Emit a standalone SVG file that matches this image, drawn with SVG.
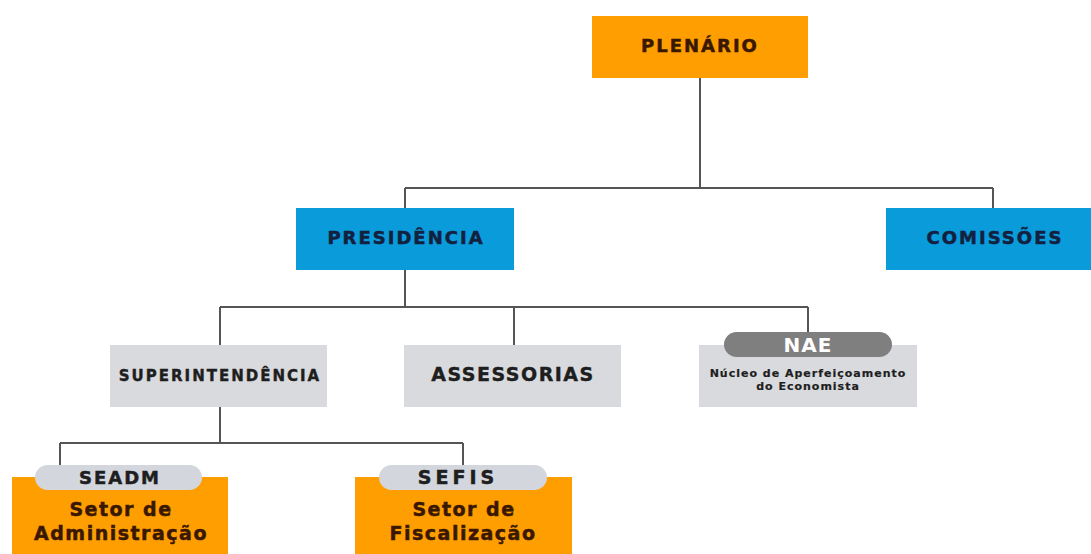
<svg xmlns="http://www.w3.org/2000/svg" width="1091" height="554" viewBox="0 0 1091 554">
<style>
.conn{fill:none;stroke:#555;stroke-width:2}
.orange{fill:#FF9E00}
.blue{fill:#0A9BDB}
.gray{fill:#D9DADD}
.t{font-family:"DejaVu Sans","Liberation Sans",sans-serif;font-weight:bold;text-anchor:middle;dominant-baseline:central}
.tb{fill:#13213F;stroke:#13213F;stroke-width:0.5;font-size:18px;letter-spacing:2px}
.to{fill:#3A1800;stroke:#3A1800;stroke-width:0.5;font-size:18px;letter-spacing:2px}
.tg{fill:#1E1E1E;stroke:#1E1E1E;stroke-width:0.4;font-size:15px;letter-spacing:2px}
.tsub{fill:#3A1800;stroke:#3A1800;stroke-width:0.5;font-size:19px;letter-spacing:1.5px}
.pill{fill:#1E1E1E;stroke:#1E1E1E;stroke-width:0.5;font-size:18px;letter-spacing:2px}
</style>
<rect width="1091" height="554" fill="#fff"/>
<g id="connectors">
<path class="conn" d="M700 78V188M405 188H993M405 188V208M993 188V208"/>
<path class="conn" d="M405 270V307M220 307H808M220 307V345M514 307V345M808 307V333"/>
<path class="conn" d="M220 407V443M60 443H463M60 443V466M463 443V466"/>
</g>
<g id="plenario">
<rect class="orange" x="592" y="16" width="216" height="62"/>
<text class="t to" x="700" y="45">PLENÁRIO</text>
</g>
<g id="presidencia">
<rect class="blue" x="296" y="208" width="218" height="62"/>
<text class="t tb" x="406" y="237">PRESIDÊNCIA</text>
</g>
<g id="comissoes">
<rect class="blue" x="886" y="208" width="205" height="62"/>
<text class="t tb" x="995" y="237">COMISSÕES</text>
</g>
<g id="superintendencia">
<rect class="gray" x="110" y="345" width="217" height="62"/>
<text class="t tg" x="220" y="376">SUPERINTENDÊNCIA</text>
</g>
<g id="assessorias">
<rect class="gray" x="404" y="345" width="217" height="62"/>
<text class="t tg" x="513" y="374" style="font-size:19px;letter-spacing:1.5px">ASSESSORIAS</text>
</g>
<g id="nae">
<rect class="gray" x="699" y="345" width="218" height="62"/>
<rect x="724" y="332" width="168" height="25" rx="12.5" fill="#7F7F7F"/>
<text class="t" x="808" y="345" style="fill:#fff;font-size:20px;letter-spacing:1px">NAE</text>
<text class="t tg" x="808" y="373" style="font-size:11px;letter-spacing:1px;stroke-width:0.2">Núcleo de Aperfeiçoamento</text>
<text class="t tg" x="808" y="386" style="font-size:11px;letter-spacing:1px;stroke-width:0.2">do Economista</text>
</g>
<g id="seadm">
<rect class="orange" x="12" y="477" width="216" height="77"/>
<rect x="35" y="465" width="167" height="25" rx="12.5" fill="#D3D6DD"/>
<text class="t pill" x="120" y="477">SEADM</text>
<text class="t tsub" x="121" y="509">Setor de</text>
<text class="t tsub" x="121" y="533">Administração</text>
</g>
<g id="sefis">
<rect class="orange" x="355" y="477" width="217" height="77"/>
<rect x="379" y="465" width="168" height="25" rx="12.5" fill="#D3D6DD"/>
<text class="t pill" x="458" y="477" style="font-size:19px;letter-spacing:4px">SEFIS</text>
<text class="t tsub" x="464" y="509">Setor de</text>
<text class="t tsub" x="463" y="533">Fiscalização</text>
</g>
</svg>
